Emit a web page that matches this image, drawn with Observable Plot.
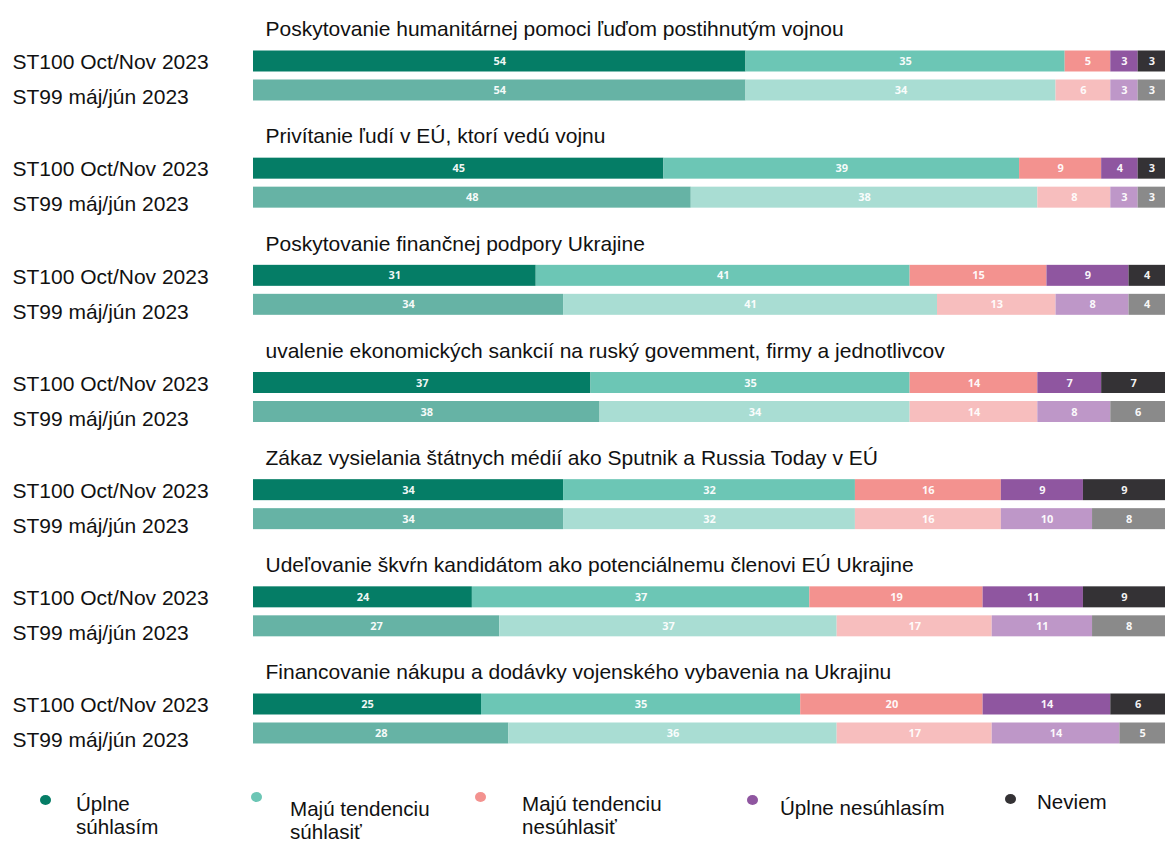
<!DOCTYPE html>
<html>
<head>
<meta charset="utf-8">
<script src="https://cdn.jsdelivr.net/npm/d3@7"></script>
<script src="https://cdn.jsdelivr.net/npm/@observablehq/plot@0.6"></script>
<style>
  body { margin: 0; background: #fff; }
  #wrap { position: relative; width: 1165px; height: 841px; background: #fff; font-family: "Liberation Sans", Arial, sans-serif; }
  #legend { position: absolute; left: 0; top: 770px; width: 1165px; height: 71px; }
  .dot { position: absolute; width: 11px; height: 10px; border-radius: 50%; }
  .lt { position: absolute; font-family: "Liberation Sans", Arial, sans-serif; font-size: 21px; line-height: 23px; color: #111; white-space: nowrap; transform-origin: 0 0; transform: scaleX(0.98); }
</style>
</head>
<body>
<div id="wrap"><div id="chart"></div><div id="legend"></div></div>
<script>
// ---- data ----
const categories = ["Úplne súhlasím", "Majú tendenciu súhlasiť", "Majú tendenciu nesúhlasiť", "Úplne nesúhlasím", "Neviem"];
const legendLabels = [["Úplne", "súhlasím"], ["Majú tendenciu", "súhlasiť"], ["Majú tendenciu", "nesúhlasiť"], ["Úplne nesúhlasím"], ["Neviem"]];
const periods = ["ST100 Oct/Nov 2023", "ST99 máj/jún 2023"];
const questions = [
  "Poskytovanie humanitárnej pomoci ľuďom postihnutým vojnou",
  "Privítanie ľudí v EÚ, ktorí vedú vojnu",
  "Poskytovanie finančnej podpory Ukrajine",
  "uvalenie ekonomických sankcií na ruský govemment, firmy a jednotlivcov",
  "Zákaz vysielania štátnych médií ako Sputnik a Russia Today v EÚ",
  "Udeľovanie škvŕn kandidátom ako potenciálnemu členovi EÚ Ukrajine",
  "Financovanie nákupu a dodávky vojenského vybavenia na Ukrajinu"
];
const valuesST100 = [
  [54, 35, 5, 3, 3],
  [45, 39, 9, 4, 3],
  [31, 41, 15, 9, 4],
  [37, 35, 14, 7, 7],
  [34, 32, 16, 9, 9],
  [24, 37, 19, 11, 9],
  [25, 35, 20, 14, 6]
];
const valuesST99 = [
  [54, 34, 6, 3, 3],
  [48, 38, 8, 3, 3],
  [34, 41, 13, 8, 4],
  [38, 34, 14, 8, 6],
  [34, 32, 16, 10, 8],
  [27, 37, 17, 11, 8],
  [28, 36, 17, 14, 5]
];

// ---- styles ----
const colorsST100 = ["#057d66", "#6cc6b5", "#f3928f", "#8f56a0", "#343235"];
const colorsST99 = ["#66b3a5", "#a9ddd3", "#f7bebe", "#be97c8", "#8a8a8a"];
const legendColors = ["#057d66", "#6cc6b5", "#f3928f", "#8f56a0", "#343235"];

const STEP = 107.2;            // px between groups
const ROW = 29 / STEP;         // offset of second bar
const HALF = 10.5 / STEP;      // half bar thickness

const rows = [];
questions.forEach((q, gi) => {
  [valuesST100, valuesST99].forEach((vals, pi) => {
    vals[gi].forEach((v, ci) => rows.push({
      question: q, gi, pi, period: periods[pi], category: categories[ci],
      value: v, color: (pi ? colorsST99 : colorsST100)[ci]
    }));
  });
});
const labels = [];
questions.forEach((q, gi) => periods.forEach((p, pi) => labels.push({gi, pi, period: p})));
const pos = d => d.gi + d.pi * ROW;

const chart = Plot.plot({
  width: 1165,
  height: 770,
  marginLeft: 253,
  marginRight: 0,
  marginTop: 61,
  marginBottom: 66,
  x: {domain: [0, 100], axis: null},
  y: {domain: [0, questions.length - 1], reverse: true, axis: null},
  color: {type: "identity"},
  style: {fontFamily: "Liberation Sans, Arial, sans-serif", background: "#fff", overflow: "visible"},
  marks: [
    Plot.rect(rows, Plot.stackX({x: "value", y1: d => pos(d) - HALF, y2: d => pos(d) + HALF, fill: "color"})),
    Plot.text(rows, Plot.stackX({
      x: "value", y: pos, text: d => String(d.value),
      fill: "white", fillOpacity: 0.95, fontWeight: "bold", fontSize: 11, fontFamily: "Open Sans, sans-serif"
    })),
    Plot.text(questions, {
      x: 0, y: (d, i) => i, text: d => d, textAnchor: "start", dx: 12, dy: -32,
      fontSize: 21, fill: "#111"
    }),
    Plot.text(labels.filter(d => d.pi === 0), {
      x: 0, y: pos, text: "period", textAnchor: "start", dx: -241, dy: 1, fontSize: 21, fill: "#111"
    }),
    Plot.text(labels.filter(d => d.pi === 1), {
      x: 0, y: pos, text: "period", textAnchor: "start", dx: -241, dy: 7, fontSize: 21, fill: "#111"
    })
  ]
});
document.getElementById("chart").appendChild(chart);

// ---- legend ----
const legendPos = [[45, 30, 76, 33], [256, 27, 290, 38], [480, 27, 522, 33], [752, 30, 780, 37], [1010, 29, 1037, 31]];
const legend = document.getElementById("legend");
categories.forEach((c, i) => {
  const [dx, dy, tx, ty] = legendPos[i];
  const dot = document.createElement("div");
  dot.className = "dot";
  dot.style.left = (dx - 5.5) + "px";
  dot.style.top = (dy - 5) + "px";
  dot.style.background = legendColors[i];
  legend.appendChild(dot);
  const t = document.createElement("div");
  t.className = "lt";
  t.style.left = tx + "px";
  t.style.top = (ty - 11.5) + "px";
  t.innerHTML = legendLabels[i].join("<br>");
  legend.appendChild(t);
});
</script>
</body>
</html>
